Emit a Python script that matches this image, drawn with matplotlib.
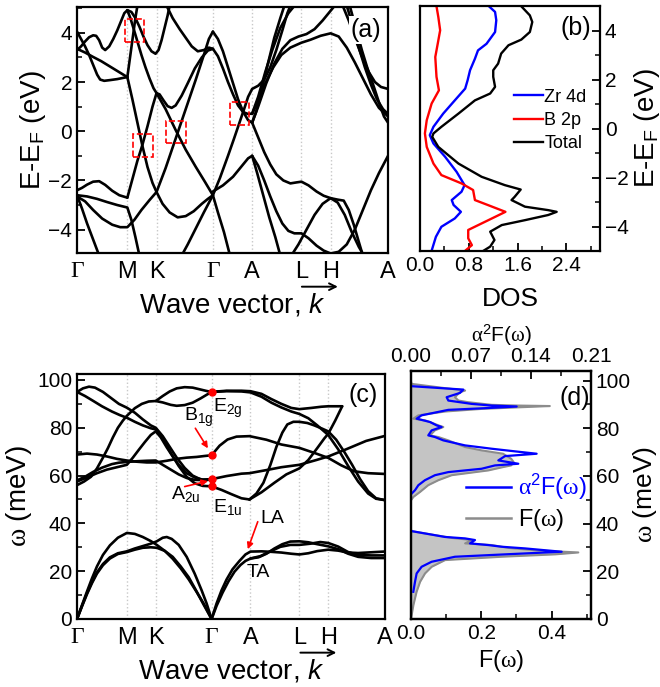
import numpy as np
import matplotlib
matplotlib.use('Agg')
import matplotlib.pyplot as plt
from matplotlib.ticker import MultipleLocator
from matplotlib.lines import Line2D
from matplotlib.patches import Rectangle

plt.rcParams['font.family'] = ['Liberation Sans', 'DejaVu Sans']
plt.rcParams['mathtext.fontset'] = 'custom'
plt.rcParams['mathtext.rm'] = 'Liberation Sans'
plt.rcParams['mathtext.it'] = 'Liberation Sans:italic'
plt.rcParams['mathtext.sf'] = 'Liberation Serif'
plt.rcParams['axes.linewidth'] = 1.6

# high symmetry path
kpts = [0, 50, 79, 135, 174, 223, 252, 309]
klabels = ['Γ', 'M', 'K', 'Γ', 'A', 'L', 'H', 'A']

# ---- electronic bands (k, E-EF in eV)
eb1 = [(0,4.05),(4,3.75),(8,3.45),(12,3.1),(16,2.7),(20,2.3),(23,2.1),(27,2.05),(33,2.08),(40,2.12),(46,2.17),(50,2.2)]
eb2 = [(0,3.3),(4,3.45),(8,3.65),(12,3.82),(16,3.9),(19,3.88),(22,3.7),(25,3.4),(28,3.3),(32,3.45),(36,3.75),(40,4.1),(44,4.5),(47,4.8),(50,4.92)]
eb3 = [(0,3.35),(8,3.2),(16,3.02),(24,2.85),(32,2.65),(40,2.45),(46,2.3),(50,2.2)]
eb4 = [(50,4.92),(54,4.85),(58,4.6),(62,4.25),(66,3.85),(70,3.5),(74,3.25),(78,3.15),(81,3.3),(84,3.7),(87,4.2),(90,4.7),(92,5.1)]
eb5 = [(50,4.92),(53,4.6),(56,4.2),(60,3.65),(64,3.1),(68,2.6),(72,2.15),(76,1.75),(79,1.55)]
eb6 = [(50,2.2),(52,2.8),(54,3.4),(56,4.0),(58,4.6),(60,5.1)]
eb7 = [(50,2.2),(55,1.3),(60,0.35),(65,-0.6),(70,-1.45),(75,-2.1),(79,-2.47),(85,-2.95),(92,-3.3),(100,-3.5),(108,-3.45),(116,-3.25),(124,-2.95),(130,-2.75),(135,-2.6)]
eb8 = [(50,-2.7),(55,-1.95),(60,-1.2),(65,-0.55),(70,0.2),(75,1.0),(79,1.55)]
eb9 = [(79,1.55),(82,1.5),(86,1.25),(90,1.02),(94,0.95),(98,1.05),(104,1.45),(110,1.95),(117,2.55),(124,3.0),(130,3.28),(135,3.35)]
eb10 = [(79,1.55),(88,0.9),(98,0.05),(108,-0.75),(118,-1.45),(127,-2.05),(135,-2.6)]
eb11 = [(0,-2.65),(8,-2.85),(16,-3.2),(25,-3.55),(35,-3.8),(43,-3.9),(50,-3.9),(57,-3.6),(64,-3.2),(72,-2.8),(79,-2.47),(88,-1.5),(98,-0.3),(108,0.9),(118,2.1),(126,3.1),(131,3.75),(135,4.05)]
eb12 = [(89,5.1),(95,4.6),(102,4.15),(108,3.8),(114,3.45),(120,3.25),(126,3.3),(131,3.4),(135,3.35)]
eb13 = [(0,-2.4),(5,-2.3),(10,-2.17),(16,-2.05),(22,-2.03),(28,-2.18),(35,-2.42),(42,-2.6),(50,-2.7)]
eb14 = [(0,-2.6),(10,-2.65),(20,-2.75),(30,-2.88),(40,-3.0),(50,-3.1),(54,-3.6),(58,-4.3),(62,-5.05)]
eb15 = [(0,-2.6),(5,-3.15),(10,-3.75),(16,-4.4),(22,-5.05)]
eb16 = [(104,-5.05),(110,-4.6),(118,-3.95),(126,-3.3),(135,-2.6)]
eb17 = [(135,-2.6),(140,-3.3),(146,-4.1),(152,-5.05)]
eb18 = [(135,4.05),(140,3.75),(145,3.25),(150,2.6),(155,1.95),(160,1.3),(165,0.8),(170,0.45),(174,0.35)]
eb19 = [(135,3.35),(140,3.05),(145,2.55),(150,2.0),(155,1.5),(160,1.05),(165,0.78),(170,0.7),(174,0.72)]
eb20 = [(135,-2.6),(142,-1.9),(150,-1.0),(156,-0.3),(161,0.3),(166,0.9),(170,1.4),(174,1.72),(180,1.85),(186,2.1),(192,2.6),(198,3.3),(204,4.1),(209,4.8),(212,5.1)]
eb21 = [(174,0.35),(178,0.8),(184,1.8),(190,2.8),(196,3.8),(202,4.6),(206,5.1)]
eb22 = [(174,0.72),(180,1.4),(187,2.4),(194,3.3),(202,4.2),(210,4.8),(216,5.1)]
eb23 = [(174,0.7),(180,1.25),(187,1.95),(195,2.6),(203,3.1),(212,3.4),(223,3.6),(232,3.72),(242,3.88),(252,3.98),(260,3.85),(268,3.4),(276,2.8),(284,2.15),(292,1.5),(300,0.95),(309,0.6)]
eb24 = [(174,0.35),(180,1.0),(188,1.95),(196,2.75),(204,3.35),(212,3.7),(220,3.85),(228,3.95),(236,4.15),(244,4.5),(250,4.8),(256,5.1)]
eb25 = [(264,5.1),(270,4.5),(276,3.8),(283,3.05),(290,2.4),(296,2.0),(302,1.8),(309,1.72)]
eb26 = [(268,5.1),(274,4.3),(280,3.4),(286,2.6),(292,1.9),(298,1.3),(304,0.9),(309,0.7)]
eb27 = [(271,5.1),(277,4.2),(283,3.3),(289,2.5),(295,1.8),(301,1.05),(305,0.6),(309,0.35)]
eb28 = [(174,0.35),(180,-0.25),(186,-0.85),(192,-1.35),(198,-1.75),(205,-2.0),(212,-2.12),(218,-2.08),(223,-2.05),(230,-2.2),(238,-2.45),(245,-2.62),(252,-2.72),(259,-2.78),(265,-2.82),(270,-3.2),(275,-3.8),(280,-4.5),(284,-5.05)]
eb29 = [(135,-2.45),(145,-2.2),(155,-1.85),(163,-1.45),(170,-1.1),(174,-1.0)]
eb30 = [(174,-1.0),(180,-1.4),(186,-2.0),(192,-2.65),(198,-3.25),(204,-3.75),(210,-4.05),(216,-4.15),(223,-4.15),(230,-4.35),(238,-4.65),(245,-4.85),(252,-4.97),(260,-4.9),(268,-4.6),(276,-4.0),(284,-3.2),(292,-2.4),(300,-1.7),(309,-1.0)]
eb31 = [(174,-1.0),(179,-1.7),(185,-2.6),(191,-3.5),(197,-4.3),(202,-5.05)]
eb32 = [(213,-5.05),(220,-4.6),(228,-4.0),(236,-3.4),(244,-2.95),(252,-2.72),(259,-2.9),(266,-3.4),(273,-4.1),(280,-4.7),(285,-5.05)]
ebands = [eb1, eb2, eb3, eb4, eb5, eb6, eb7, eb8, eb9, eb10, eb11, eb12, eb13, eb14, eb15, eb16,
          eb17, eb18, eb19, eb20, eb21, eb22, eb23, eb24, eb25, eb26, eb27, eb28, eb29, eb30, eb31, eb32]

# red dashed boxes around crossings: (k0, k1, E0, E1)
dirac_boxes = [(48, 67, 3.62, 4.55), (55.7, 75.7, -1.06, -0.12), (88.7, 108, -0.48, 0.42), (151.7, 171.3, 0.24, 1.18)]

# ---- projected DOS (states/eV, E-EF)
dos_zr = [(1.13,4.99),(1.23,4.76),(1.25,4.42),(1.23,3.94),(1.09,3.46),(0.95,3.19),(0.90,2.85),(0.82,2.38),(0.78,1.97),(0.74,1.63),(0.57,1.15),(0.38,0.61),(0.22,0.07),(0.16,-0.27),(0.22,-0.61),(0.41,-1.15),(0.60,-1.77),(0.73,-2.31),(0.68,-2.58),(0.52,-2.92),(0.55,-3.12),(0.67,-3.40),(0.57,-3.67),(0.35,-4.01),(0.26,-4.42),(0.19,-4.99)]
dos_b = [(0.27,4.99),(0.30,4.55),(0.33,4.01),(0.29,3.46),(0.25,2.92),(0.27,2.11),(0.31,1.56),(0.19,1.02),(0.11,0.34),(0.08,-0.20),(0.11,-0.75),(0.22,-1.43),(0.35,-1.90),(0.68,-2.24),(0.87,-2.51),(0.90,-2.92),(1.12,-3.13),(1.40,-3.40),(1.12,-3.74),(0.79,-4.14),(0.79,-4.48),(0.85,-4.76),(0.74,-4.99)]
dos_tot = [(1.66,4.99),(1.80,4.62),(1.84,4.35),(1.80,3.94),(1.66,3.63),(1.45,3.40),(1.33,3.06),(1.28,2.65),(1.20,2.38),(1.20,2.11),(1.23,1.70),(1.15,1.43),(0.90,1.15),(0.63,0.61),(0.35,0.07),(0.22,-0.20),(0.20,-0.34),(0.30,-0.75),(0.63,-1.43),(1.01,-1.97),(1.39,-2.31),(1.65,-2.49),(1.55,-2.79),(1.50,-2.92),(1.72,-3.19),(2.10,-3.33),(2.24,-3.40),(2.10,-3.53),(1.72,-3.74),(1.34,-3.94),(1.15,-4.21),(1.22,-4.55),(1.15,-4.82),(1.04,-4.99)]

# ---- phonon branches (k, omega in meV)
pb1 = [(0,0),(5,5.8),(10,11.5),(15,17),(20,22),(26,26.8),(33,30.8),(41,34),(50,36),(58,35.6),(66,34.3),(74,32.6),(80,31),(88,28.5),(96,25.2),(104,21.2),(112,16.6),(120,11.3),(127,6.5),(135,0)]
pb2 = [(0,0),(5,5.5),(10,10.8),(15,15.5),(20,19.5),(26,23),(33,25.8),(41,27.5),(50,28.3),(58,29.5),(66,30.5),(74,31.5),(80,32.5),(86,34),(90,34.3),(95,33.5),(102,31),(110,26),(118,19),(125,12),(130,6.5),(135,0)]
pb3 = [(0,0),(5,5.3),(10,10.4),(15,15),(20,19),(26,22.5),(33,25.3),(41,27.2),(50,28),(58,29),(66,29.8),(74,30),(80,29.8),(88,28.5),(96,26),(104,22),(112,17.5),(120,11.5),(127,6),(135,0)]
pb4 = [(135,0),(140,6.5),(145,12),(150,16.5),(156,20.8),(163,24.3),(169,27),(174,28.2),(185,28.3),(195,28.1),(205,27.8),(215,27.3),(223,27),(232,27.5),(241,28.4),(252,29),(262,28.6),(272,27.8),(282,27.6),(295,27.9),(308,28.2)]
pb5 = [(135,0),(140,5.5),(146,11),(152,15.8),(158,19.8),(164,22.6),(169,24.3),(174,25.3),(182,25.8),(190,27.3),(198,29.5),(206,31.3),(214,32.4),(223,32.5),(232,32.1),(241,31.3),(252,30.4),(262,29.2),(272,27.3),(282,26),(295,25.5),(308,25.5)]
pb6 = [(174,25.3),(184,26.3),(194,28.3),(204,30.2),(214,31),(223,31),(234,31.5),(244,32.2),(252,31.8),(262,30.3),(272,28),(282,26.8),(295,26.6),(308,26.6)]
pb7 = [(0,95),(6,96.5),(12,97.2),(18,96.8),(26,95),(34,92.5),(42,90),(50,88.4),(58,86.3),(66,83.5),(74,81),(79,80),(86,76.5),(93,72),(100,67.5),(108,63.2),(116,60),(124,58.4),(130,58.1),(135,58.5)]
pb8 = [(0,95),(8,93.3),(16,91.3),(25,89),(35,86.8),(43,85.3),(50,84.2),(58,82.5),(66,81),(74,79.8),(79,79.3),(86,75.5),(94,69.5),(102,64),(110,59.5),(118,56.8),(126,55.7),(135,55.5)]
pb9 = [(0,68.8),(10,69.2),(20,68.8),(30,68),(40,67),(50,66.3),(60,65.8),(70,65.5),(79,65.5),(90,66.2),(100,67),(110,67.5),(120,67.8),(128,68.2),(135,68.5)]
pb10 = [(0,58),(8,59.5),(16,61.5),(25,63.3),(35,64.8),(42,65.4),(50,65.7),(60,66),(70,66.2),(79,66.3),(86,64.5),(94,62.5),(102,60.5),(110,59),(118,58.2),(126,58.1),(135,58.5)]
pb11 = [(0,56),(7,57.5),(14,59.5),(20,63),(26,67.5),(31,71.5),(36,76),(41,80),(46,83),(50,85),(58,88.2),(65,90),(72,91),(79,91.2),(86,90.6),(94,89.6),(100,89.2),(108,89.5),(116,90.5),(124,92.3),(130,93.8),(135,95)]
pb12 = [(0,57.5),(10,59.2),(20,61),(30,62.5),(40,63.5),(50,64.5),(56,67.5),(62,70.8),(68,74),(74,77),(79,78.5),(84,76),(90,71.8),(96,68),(102,64.5),(110,61),(118,59.2),(126,58.3),(135,58.5)]
pb13 = [(79,91.2),(86,93.3),(93,95.2),(100,96.5),(108,97),(116,96.8),(124,96),(130,95.4),(135,95)]
pb14 = [(135,95),(150,95.5),(165,95.5),(174,95.3),(185,94.2),(195,92),(205,90),(215,88.3),(223,87.8),(235,88.3),(245,88.8),(252,89),(260,89),(266,89)]
pb15 = [(135,95),(150,95.3),(165,95.2),(174,94.8),(185,93),(195,90.5),(205,88.5),(215,86.8),(223,85.8),(232,84),(241,81),(252,77),(262,71),(272,64),(282,57.5),(292,52.5),(300,50.3),(308,49.8)]
pb16 = [(173,50),(180,52.5),(187,57),(194,64.5),(200,72),(206,78),(211,81.4),(217,82.5),(223,82.5),(231,82),(238,81),(245,79.8),(252,78.5),(260,75),(268,70),(276,64.5),(284,58.5),(292,53.5),(300,50.5),(308,49.8)]
pb17 = [(173,50),(185,53),(198,57),(210,60.5),(223,63),(232,66.5),(241,71.5),(248,75.5),(252,77.5),(259,83),(266,89)]
pb18 = [(135,55.5),(145,54),(155,52.2),(165,50.5),(173,50)]
pb19 = [(135,58.5),(150,59.8),(165,60.8),(173,61),(190,62.3),(205,63.5),(223,64.5),(240,66.5),(252,68),(270,71),(290,74.5),(308,76.5)]
pb20 = [(135,68.5),(143,72.5),(151,75.1),(160,76.3),(173,76.5),(190,75),(205,73),(223,71.6),(238,69.5),(252,67.4),(265,64.3),(278,61.8),(292,61),(308,60.7)]
pbands = [pb1, pb2, pb3, pb4, pb5, pb6, pb7, pb8, pb9, pb10, pb11, pb12, pb13, pb14, pb15, pb16, pb17, pb18, pb19, pb20]

# zone-centre optical modes at Gamma
gamma_modes = [95, 68.5, 58.5, 55.5]

# ---- phonon DOS F(w) and Eliashberg function a2F(w): (value, omega)
F_opt = [(0.0,99.5),(0.0019,98.6),(0.097,96.8),(0.154,95.8),(0.139,95.1),(0.125,93.0),(0.135,91.6),(0.163,90.9),(0.230,89.8),(0.305,89.5),(0.395,89.3),(0.296,88.7),(0.201,88.1),(0.097,87.0),(0.021,85.4),(0.0066,84.0),(0.040,83.3),(0.059,82.3),(0.078,81.2),(0.092,80.5),(0.068,79.1),(0.054,77.0),(0.078,76.3),(0.106,74.9),(0.154,72.1),(0.201,70.7),(0.262,69.3),(0.285,67.2),(0.292,65.8),(0.285,64.4),(0.262,63.7),(0.220,62.3),(0.116,60.3),(0.078,58.2),(0.049,56.1),(0.026,53.3),(0.007,51.2),(0.0,49.8)]
F_ac = [(0.0,37.5),(0.002,36.8),(0.116,34.0),(0.173,33.1),(0.154,31.7),(0.230,31.0),(0.277,29.8),(0.362,28.7),(0.476,27.9),(0.410,27.1),(0.258,26.1),(0.097,24.7),(0.059,21.9),(0.040,19.1),(0.026,15.6),(0.016,11.4),(0.007,5.9),(0.0,0.0)]
a2F_opt = [(0.0016,97.6),(0.0611,96.2),(0.0572,94.8),(0.0416,93.0),(0.0436,91.6),(0.0708,90.2),(0.0941,89.5),(0.1233,89.1),(0.0863,88.4),(0.0436,87.7),(0.0124,85.4),(0.0066,84.0),(0.0222,82.6),(0.0299,81.2),(0.0358,80.5),(0.0241,79.1),(0.0202,77.0),(0.0280,76.3),(0.0377,74.9),(0.0630,72.8),(0.0941,71.4),(0.1213,70.3),(0.1466,69.3),(0.1097,68.3),(0.1019,66.5),(0.1252,65.1),(0.0980,64.4),(0.0824,63.0),(0.0436,61.6),(0.0280,60.3),(0.0163,58.2),(0.0086,56.1),(0.0047,54.0),(0.0008,52.6)]
a2F_ac = [(0.0016,36.8),(0.0397,34.4),(0.0630,33.8),(0.0747,33.1),(0.0688,31.7),(0.0902,31.0),(0.1058,30.3),(0.1330,29.6),(0.1758,28.2),(0.1097,27.1),(0.0513,26.1),(0.0241,24.0),(0.0124,21.9),(0.0066,19.1),(0.0047,15.6),(0.0027,11.4)]


def xy(pts):
    a = np.array(pts, dtype=float)
    return a[:, 0], a[:, 1]


def kpath_axis(ax, ylo, yhi):
    for kp in kpts[1:-1]:
        ax.axvline(kp, color='#c8c8c8', ls=':', lw=1.0, zorder=0)
    ax.set_xlim(kpts[0], kpts[-1])
    ax.set_ylim(ylo, yhi)
    ax.set_xticks(kpts)
    ax.set_xticklabels(klabels, fontsize=17)
    for t in ax.get_xticklabels():
        if t.get_text() == 'Γ':
            t.set_fontfamily('Liberation Serif')
    ax.tick_params(axis='x', length=0, pad=6)
    ax.tick_params(axis='y', which='both', direction='in', labelsize=15)
    ax.tick_params(axis='y', which='major', length=6, width=1.3)
    ax.tick_params(axis='y', which='minor', length=3.5, width=1.1)
    ax.set_xlabel(r'Wave vector, $k$', fontsize=20, labelpad=6)


def vector_arrow(ax):
    # long arrow over the italic k at the end of the x label
    bb = ax.xaxis.label.get_window_extent()
    y = bb.y1 + 5
    ax.annotate('', xy=(bb.x1 + 12, y), xytext=(bb.x1 - 24, y), xycoords='figure pixels',
                arrowprops=dict(arrowstyle='->', color='black', lw=1.4, mutation_scale=12,
                                shrinkA=0, shrinkB=0))


fig = plt.figure(figsize=(6.6, 6.87), dpi=100)

# (a) electronic band structure
ax_a = fig.add_axes([0.1167, 0.6317, 0.4712, 0.3581])
for b in ebands:
    x, y = xy(b)
    ax_a.plot(x, y, color='black', lw=1.9, solid_capstyle='round')
for k0, k1, e0, e1 in dirac_boxes:
    ax_a.add_patch(Rectangle((k0, e0), k1 - k0, e1 - e0, fill=False, ec='red', ls='--', lw=1.2, zorder=5))
kpath_axis(ax_a, -4.95, 5.05)
ax_a.yaxis.set_major_locator(MultipleLocator(2))
ax_a.yaxis.set_minor_locator(MultipleLocator(1))
ax_a.set_ylabel(r'E-E$_\mathregular{F}$ (eV)', fontsize=20, labelpad=0)
ax_a.text(287, 4.1, '(a)', fontsize=18, ha='center', va='center',
          bbox=dict(fc='white', ec='none', pad=1.5), zorder=6)

# (b) density of states
ax_b = fig.add_axes([0.6364, 0.6346, 0.2727, 0.3566])
for pts, col, lab in [(dos_zr, 'blue', 'Zr 4d'), (dos_b, 'red', 'B 2p'), (dos_tot, 'black', 'Total')]:
    x, y = xy(pts)
    ax_b.plot(x, y, color=col, lw=1.7, label=lab)
ax_b.set_xlim(0, 2.95)
ax_b.set_ylim(-5, 5)
ax_b.xaxis.set_major_locator(MultipleLocator(0.8))
ax_b.xaxis.set_minor_locator(MultipleLocator(0.4))
ax_b.yaxis.set_major_locator(MultipleLocator(2))
ax_b.yaxis.set_minor_locator(MultipleLocator(1))
ax_b.yaxis.tick_right()
ax_b.yaxis.set_label_position('right')
ax_b.tick_params(which='both', direction='in', labelsize=15)
ax_b.tick_params(which='major', length=6, width=1.3)
ax_b.tick_params(which='minor', length=3.5, width=1.1)
ax_b.set_ylabel(r'E-E$_\mathregular{F}$ (eV)', fontsize=20, labelpad=2)
ax_b.set_xlabel('DOS', fontsize=19, labelpad=9)
ax_b.legend(loc='upper left', bbox_to_anchor=(0.47, 0.7), frameon=False, fontsize=13,
            handlelength=1.6, handletextpad=0.1, labelspacing=0.35, borderpad=0)
ax_b.text(2.56, 4.1, '(b)', fontsize=18, ha='center', va='center')

# (c) phonon dispersion
ax_c = fig.add_axes([0.1167, 0.0990, 0.4667, 0.3566])
for b in pbands:
    x, y = xy(b)
    ax_c.plot(x, y, color='black', lw=1.9, solid_capstyle='round')
ax_c.plot([kpts[3]] * len(gamma_modes), gamma_modes, 'o', color='red', ms=5, zorder=6)
kpath_axis(ax_c, 0, 102.5)
ax_c.yaxis.set_major_locator(MultipleLocator(20))
ax_c.yaxis.set_minor_locator(MultipleLocator(10))
ax_c.set_ylabel(r'$\mathsf{\omega}$ (meV)', fontsize=20, labelpad=2)
ax_c.text(136, 88.3, r'E$_\mathregular{2g}$', fontsize=14, ha='left', va='center')
ax_c.text(107, 84.5, r'B$_\mathregular{1g}$', fontsize=14, ha='left', va='center')
ax_c.text(94, 52.5, r'A$_\mathregular{2u}$', fontsize=14, ha='left', va='center')
ax_c.text(136, 47, r'E$_\mathregular{1u}$', fontsize=14, ha='left', va='center')
ax_c.text(184, 42, 'LA', fontsize=14, ha='left', va='center')
ax_c.text(170, 19.5, 'TA', fontsize=14, ha='left', va='center')
arrow = dict(arrowstyle='-|>', color='red', lw=1.2, mutation_scale=9, shrinkA=0, shrinkB=0)
ax_c.annotate('', xy=(131.3, 71.4), xytext=(118.7, 79.8), arrowprops=arrow)
ax_c.annotate('', xy=(131.3, 57.7), xytext=(108, 55.4), arrowprops=arrow)
ax_c.annotate('', xy=(171.3, 29.2), xytext=(181.3, 40.7), arrowprops=arrow)
ax_c.text(287, 93.7, '(c)', fontsize=18, ha='center', va='center')

# (d) F(w) and a2F(w)
ax_d = fig.add_axes([0.6227, 0.0990, 0.2727, 0.361])
for pts in (F_opt, F_ac):
    x, y = xy(pts)
    ax_d.fill_betweenx(y, 0, x, color='#c4c4c4', lw=0)
    ax_d.plot(x, y, color='#8c8c8c', lw=1.5)
ax_d.set_xlim(0, 0.512)
ax_d.set_ylim(0, 104)
ax_d.xaxis.set_major_locator(MultipleLocator(0.2))
ax_d.xaxis.set_minor_locator(MultipleLocator(0.1))
ax_d.yaxis.set_major_locator(MultipleLocator(20))
ax_d.yaxis.set_minor_locator(MultipleLocator(10))
ax_d.yaxis.tick_right()
ax_d.yaxis.set_label_position('right')
ax_d.tick_params(which='both', direction='in', labelsize=15)
ax_d.tick_params(which='major', length=6, width=1.3)
ax_d.tick_params(which='minor', length=3.5, width=1.1)
ax_d.set_ylabel(r'$\mathsf{\omega}$ (meV)', fontsize=19, labelpad=0)
ax_d.set_xlabel(r'F($\mathsf{\omega}$)', fontsize=17, labelpad=4)

ax_t = ax_d.twiny()
for pts in (a2F_opt, a2F_ac):
    x, y = xy(pts)
    ax_t.plot(x, y, color='blue', lw=1.6)
ax_t.set_xlim(0, 0.21)
ax_t.xaxis.set_major_locator(MultipleLocator(0.07))
ax_t.xaxis.set_minor_locator(MultipleLocator(0.035))
ax_t.xaxis.set_major_formatter(lambda v, p: f'{v:.2f}')
ax_t.tick_params(which='both', direction='in', labelsize=15)
ax_t.tick_params(which='major', length=6, width=1.3)
ax_t.tick_params(which='minor', length=3.5, width=1.1)
ax_t.set_xlabel(r'$\mathsf{\alpha}^\mathregular{2}$F($\mathsf{\omega}$)', fontsize=15, labelpad=4)
ax_t.text(0.1905, 92.5, '(d)', fontsize=18, ha='center', va='center')

handles = [Line2D([], [], color='blue', lw=1.8), Line2D([], [], color='#8c8c8c', lw=1.8)]
ax_t.legend(handles, [r'$\mathsf{\alpha}^\mathregular{2}$F($\mathsf{\omega}$)', r'F($\mathsf{\omega}$)'],
            loc='upper left', bbox_to_anchor=(0.24, 0.64), frameon=False, fontsize=17,
            labelcolor=['blue', 'black'], handlelength=1.9, handletextpad=0.3,
            labelspacing=0.2, borderpad=0)

fig.canvas.draw()
vector_arrow(ax_a)
vector_arrow(ax_c)

fig.savefig('out.png', dpi=100)
